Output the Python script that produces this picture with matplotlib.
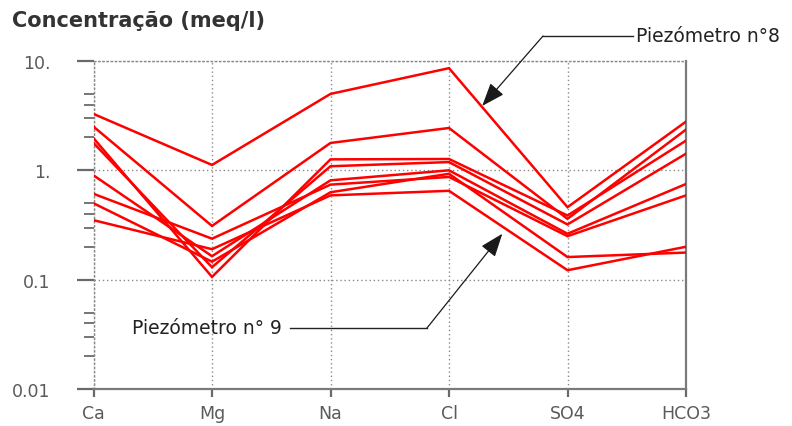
import matplotlib
matplotlib.use("Agg")
import matplotlib.pyplot as plt
from matplotlib.lines import Line2D
from matplotlib.ticker import FixedLocator, NullFormatter

plt.rcParams["font.family"] = ["DejaVu Sans"]

# Ions on the Schoeller diagram (meq/l)
ions = ["Ca", "Mg", "Na", "Cl", "SO4", "HCO3"]

piezo_8 = [3.28, 1.12, 5.0, 8.6, 0.46, 2.79]
piezo_b = [2.51, 0.31, 1.78, 2.44, 0.36, 2.36]
piezo_c = [1.97, 0.106, 1.26, 1.27, 0.386, 1.87]
piezo_d = [1.78, 0.13, 1.09, 1.19, 0.32, 1.42]
piezo_e = [0.90, 0.164, 0.81, 1.0, 0.263, 0.75]
piezo_f = [0.61, 0.237, 0.74, 0.87, 0.25, 0.59]
piezo_g = [0.50, 0.146, 0.63, 0.93, 0.161, 0.177]
piezo_9 = [0.35, 0.19, 0.59, 0.65, 0.122, 0.20]

series = [piezo_8, piezo_b, piezo_c, piezo_d, piezo_e, piezo_f, piezo_g, piezo_9]

ytick_vals = [0.01, 0.1, 1, 10]
ytick_labels = ["0.01", "0.1", "1.", "10."]

W, H = 792, 427
fig = plt.figure(figsize=(W / 100, H / 100), dpi=100)
ax = fig.add_axes([93.5 / W, 1 - 390 / H, (686 - 93.5) / W, (390 - 62) / H])

x = list(range(len(ions)))
for vals in series:
    ax.plot(x, vals, color="#ff0000", lw=1.8, solid_joinstyle="miter", zorder=3)

ax.set_yscale("log")
ax.set_ylim(0.01, 10)
ax.set_xlim(0, len(ions) - 1)

# grid
grid_kw = dict(color="#8a8a8a", lw=1.0, linestyle=(0, (1, 2)))
ax.grid(True, which="major", **grid_kw)

# frame: dotted left/top, solid bottom/right
for side in ("left", "top"):
    ax.spines[side].set_linestyle((0, (1, 2)))
    ax.spines[side].set_color("#8a8a8a")
    ax.spines[side].set_linewidth(1.0)
for side in ("bottom", "right"):
    ax.spines[side].set_color("#7a7a7a")
    ax.spines[side].set_linewidth(1.6)

ax.set_xticks(x)
ax.set_xticklabels(ions)
ax.yaxis.set_major_locator(FixedLocator(ytick_vals))
ax.set_yticklabels(ytick_labels)
minor = [m * 10.0 ** e for e in (-2, -1, 0) for m in (2, 3, 4, 5)]
ax.yaxis.set_minor_locator(FixedLocator(minor))
ax.yaxis.set_minor_formatter(NullFormatter())

ax.tick_params(axis="y", which="major", direction="out", length=12, width=1.6,
               color="#6a6a6a", labelsize=12.5, labelcolor="#5a5a5a", pad=19)
ax.tick_params(axis="y", which="minor", direction="out", length=7, width=1.3,
               color="#6a6a6a")
ax.tick_params(axis="x", which="major", direction="out", length=6, width=1.6,
               color="#6a6a6a", labelsize=12.5, labelcolor="#5a5a5a", pad=5)

fig.text(12 / W, 1 - 21 / H, "Concentração (meq/l)", fontsize=15,
         fontweight="bold", color="#333333", ha="left", va="center")

# callouts
arrow_kw = dict(arrowstyle="-|>,head_length=0.8,head_width=0.3",
                color="#1a1a1a", lw=0.9, shrinkA=0, shrinkB=0,
                mutation_scale=18)

ax.annotate("", xy=(3.28, 3.88), xycoords="data",
            xytext=(543, H - 37), textcoords="figure pixels",
            arrowprops=arrow_kw, annotation_clip=False, zorder=5)
fig.add_artist(Line2D([543 / W, 633 / W], [1 - 37 / H, 1 - 37 / H],
                      color="#222222", lw=1.0))
fig.text(636 / W, 1 - 36 / H, "Piezómetro n°8", fontsize=13.5,
         color="#222222", ha="left", va="center")

ax.annotate("", xy=(3.45, 0.263), xycoords="data",
            xytext=(427, H - 329), textcoords="figure pixels",
            arrowprops=arrow_kw, annotation_clip=False, zorder=5)
fig.add_artist(Line2D([290 / W, 427 / W], [1 - 329 / H, 1 - 329 / H],
                      color="#222222", lw=1.0))
fig.text(282 / W, 1 - 329 / H, "Piezómetro n° 9", fontsize=13.5,
         color="#222222", ha="right", va="center")

fig.savefig("out.png", dpi=100)
